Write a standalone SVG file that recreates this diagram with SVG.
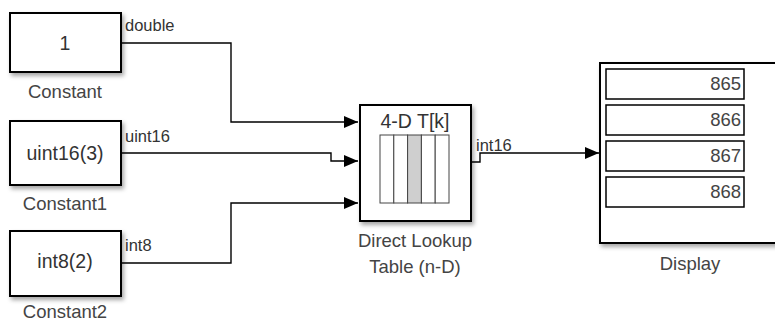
<svg xmlns="http://www.w3.org/2000/svg" width="775" height="324" viewBox="0 0 775 324">
<defs>
<filter id="sh" x="-10%" y="-10%" width="130%" height="130%">
<feDropShadow dx="2" dy="3" stdDeviation="2" flood-color="#000" flood-opacity="0.35"/>
</filter>
<marker id="arr" markerWidth="14" markerHeight="12" refX="14" refY="6" orient="auto" markerUnits="userSpaceOnUse">
<path d="M0,0 L14,6 L0,12 Z" fill="#000"/>
</marker>
</defs>
<style>
.blk{fill:#fff;stroke:#000;stroke-width:2;filter:url(#sh)}
.lbl{font-family:"Liberation Sans",Arial,sans-serif;font-size:18.5px;fill:#444;text-anchor:middle}
.in{font-family:"Liberation Sans",Arial,sans-serif;font-size:19.5px;fill:#333;text-anchor:middle}
.sig{font-family:"Liberation Sans",Arial,sans-serif;font-size:16.5px;fill:#333}
.num{font-family:"Liberation Sans",Arial,sans-serif;font-size:18.5px;fill:#444;text-anchor:end}
.ln{fill:none;stroke:#000;stroke-width:1.4}
.cell{fill:#fff;stroke:#000;stroke-width:1.5}
.col{fill:#fff;stroke:#444;stroke-width:1}
</style>
<rect width="775" height="324" fill="#fff"/>
<g id="connectors">
<path class="ln" d="M121,43 H231 V122 H358" marker-end="url(#arr)"/>
<path class="ln" d="M121,153 H331 V161 H358" marker-end="url(#arr)"/>
<path class="ln" d="M121,263 H231 V203 H358" marker-end="url(#arr)"/>
<path class="ln" d="M471,162 H480 V153 H599" marker-end="url(#arr)"/>
<text class="sig" x="125" y="31">double</text>
<text class="sig" x="125" y="142">uint16</text>
<text class="sig" x="125" y="251">int8</text>
<text class="sig" x="476" y="151">int16</text>
</g>
<g id="constant">
<rect class="blk" x="10" y="13" width="111" height="59"/>
<text class="in" x="65" y="50">1</text>
<text class="lbl" x="65" y="98">Constant</text>
</g>
<g id="constant1">
<rect class="blk" x="10" y="121" width="111" height="64"/>
<text class="in" x="65" y="160">uint16(3)</text>
<text class="lbl" x="65" y="210">Constant1</text>
</g>
<g id="constant2">
<rect class="blk" x="10" y="231" width="111" height="65"/>
<text class="in" x="65" y="268">int8(2)</text>
<text class="lbl" x="65" y="318">Constant2</text>
</g>
<g id="lookup">
<rect class="blk" x="360" y="105" width="111" height="116"/>
<text class="in" x="415" y="128">4-D T[k]</text>
<rect class="col" x="380" y="135" width="13.8" height="68"/>
<rect class="col" x="393.8" y="135" width="13.8" height="68"/>
<rect class="col" x="407.6" y="135" width="13.8" height="68" style="fill:#cfcfcf"/>
<rect class="col" x="421.4" y="135" width="13.8" height="68"/>
<rect class="col" x="435.2" y="135" width="13.8" height="68"/>
<text class="lbl" x="415" y="247">Direct Lookup</text>
<text class="lbl" x="415" y="273">Table (n-D)</text>
</g>
<g id="display">
<rect class="blk" x="600" y="63" width="190" height="180"/>
<rect class="cell" x="606" y="69" width="138" height="30"/>
<rect class="cell" x="606" y="105" width="138" height="30"/>
<rect class="cell" x="606" y="141" width="138" height="30"/>
<rect class="cell" x="606" y="177" width="138" height="30"/>
<text class="num" x="741" y="90">865</text>
<text class="num" x="741" y="126">866</text>
<text class="num" x="741" y="162">867</text>
<text class="num" x="741" y="198">868</text>
<text class="lbl" x="690" y="270">Display</text>
</g>
</svg>
